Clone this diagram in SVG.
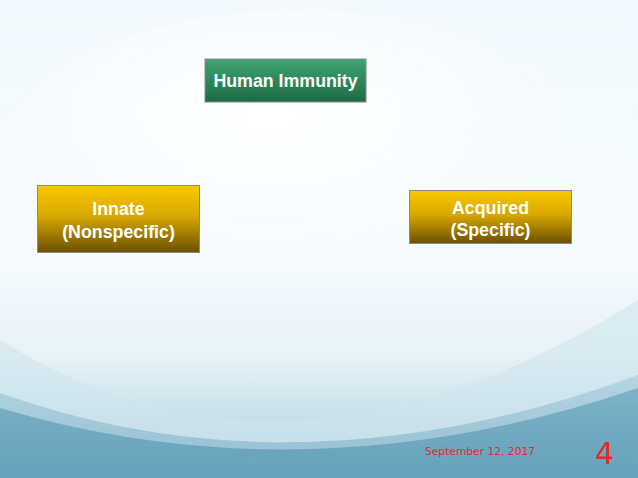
<svg xmlns="http://www.w3.org/2000/svg" width="638" height="478" viewBox="0 0 638 478">
<defs>
<linearGradient id="bg" x1="0" y1="0" x2="0" y2="1">
<stop offset="0" stop-color="#f3f9fc"/>
<stop offset="0.55" stop-color="#f7fbfd"/>
<stop offset="0.75" stop-color="#e6f1f6"/>
<stop offset="1" stop-color="#a9cedd"/>
</linearGradient>
<radialGradient id="glow" cx="0.45" cy="0.35" r="0.5">
<stop offset="0" stop-color="#ffffff" stop-opacity="1"/>
<stop offset="1" stop-color="#ffffff" stop-opacity="0"/>
</radialGradient>
<linearGradient id="band1" x1="0" y1="0" x2="0" y2="1">
<stop offset="0" stop-color="#b0d2e0"/>
<stop offset="1" stop-color="#86b6ca"/>
</linearGradient>
<linearGradient id="band2" x1="0" y1="0" x2="0" y2="1">
<stop offset="0" stop-color="#78aec4"/>
<stop offset="1" stop-color="#609eb8"/>
</linearGradient>
<linearGradient id="green" x1="0" y1="0" x2="0" y2="1">
<stop offset="0" stop-color="#3fa573"/>
<stop offset="1" stop-color="#1d6a44"/>
</linearGradient>
<linearGradient id="gold" x1="0" y1="0" x2="0" y2="1">
<stop offset="0" stop-color="#f9c800"/>
<stop offset="0.45" stop-color="#d9a800"/>
<stop offset="1" stop-color="#6a5000"/>
</linearGradient>
<style>
.box{stroke:#8a8a8a;stroke-width:1}
.lbl{font-family:"Liberation Sans",Arial,sans-serif;font-weight:bold;fill:#ffffff;text-anchor:middle;font-size:17.8px}
</style>
</defs>
<rect x="0" y="0" width="638" height="478" fill="url(#bg)"/>
<ellipse cx="300" cy="160" rx="300" ry="150" fill="url(#glow)"/>
<path d="M0,340 Q290,520 638,300 L638,478 L0,478 Z" fill="#cfe4ec" opacity="0.6"/>
<path d="M0,393 Q300,500 638,375 L638,478 L0,478 Z" fill="url(#band1)" opacity="0.85"/>
<path d="M0,408 Q310,500 638,388 L638,478 L0,478 Z" fill="url(#band2)" opacity="0.9"/>
<g id="human-immunity">
<rect class="box" x="205" y="59" width="161" height="43" fill="url(#green)"/>
<text class="lbl" x="285.5" y="87">Human Immunity</text>
</g>
<g id="innate">
<rect class="box" x="37.5" y="185.5" width="162" height="67" fill="url(#gold)"/>
<text class="lbl" x="118.5" y="215">Innate</text>
<text class="lbl" x="118.5" y="238">(Nonspecific)</text>
</g>
<g id="acquired">
<rect class="box" x="409.5" y="190.5" width="162" height="53" fill="url(#gold)"/>
<text class="lbl" x="490.5" y="214">Acquired</text>
<text class="lbl" x="490.5" y="236">(Specific)</text>
</g>
<g id="connectors"></g>
<text x="425" y="455" font-family="DejaVu Sans,Verdana,sans-serif" font-size="10.7" fill="#e8262b">September 12, 2017</text>
<text x="595" y="464" font-family="DejaVu Sans,Verdana,sans-serif" font-size="30" fill="#e8262b">4</text>
</svg>
